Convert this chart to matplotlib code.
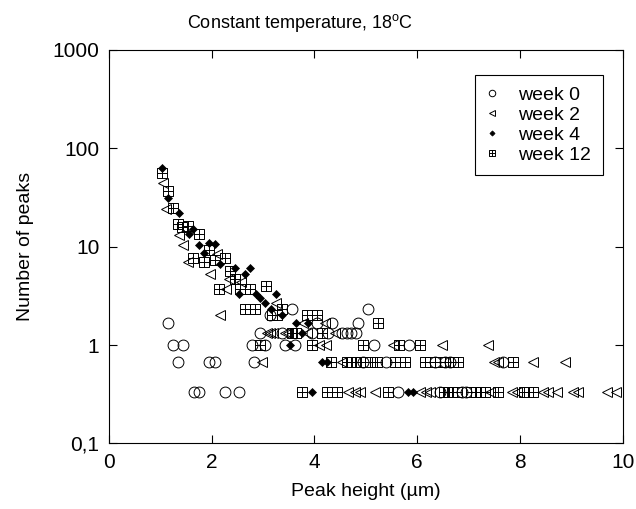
import matplotlib
matplotlib.use('Agg')
import matplotlib.pyplot as plt
from matplotlib.path import Path
from matplotlib.ticker import FixedLocator, FixedFormatter, NullLocator

plt.rcParams['font.family'] = ['Liberation Sans', 'DejaVu Sans']
plt.rcParams['mathtext.fontset'] = 'custom'
plt.rcParams['mathtext.rm'] = 'Liberation Sans'

# peak height (um) and number of peaks
week0_x = [1.15, 1.24, 1.45, 1.35, 1.95, 2.06, 2.82, 1.65, 1.76, 2.26, 2.54,
           2.78, 3.04, 3.43, 3.62, 2.94, 3.36, 3.13, 3.56, 5.05, 4.05, 4.35,
           4.85, 3.95, 4.27, 4.53, 4.63, 4.72, 4.81, 5.16, 5.85, 4.95, 5.39,
           6.35, 6.55, 6.64, 7.68, 5.63, 6.44, 6.87, 6.96]
week0_y = [1.67, 1.0, 1.0, 0.667, 0.667, 0.667, 0.667, 0.333, 0.333, 0.333, 0.333,
           1.0, 1.0, 1.0, 1.0, 1.33, 1.33, 2.0, 2.33, 2.33, 1.67, 1.67,
           1.67, 1.33, 1.33, 1.33, 1.33, 1.33, 1.33, 1.0, 1.0, 0.667, 0.667,
           0.667, 0.667, 0.667, 0.667, 0.333, 0.333, 0.333, 0.333]

week2_x = [1.06, 1.1, 1.37, 1.45, 1.54, 2.1, 1.97, 2.34, 2.56, 2.28,
           2.16, 3.26, 3.77, 4.2, 3.42, 3.48, 3.85, 4.4, 3.07, 3.14,
           3.2, 4.08, 4.22, 5.53, 6.48, 7.38, 2.97, 4.53, 7.49, 7.57,
           8.26, 8.88, 4.66, 4.79, 4.89, 5.18, 6.05, 6.18, 6.25, 7.42,
           7.84, 7.94, 8.45, 8.55, 8.72, 9.04, 9.14, 9.69, 9.88]
week2_y = [44, 24, 13, 10.33, 7, 8.33, 5.33, 4.67, 4.33, 3.67,
           2.0, 2.67, 1.67, 1.67, 1.33, 1.33, 1.33, 1.33, 1.33, 1.33,
           1.33, 1.0, 1.0, 1.0, 1.0, 1.0, 0.667, 0.667, 0.667, 0.667,
           0.667, 0.667, 0.333, 0.333, 0.333, 0.333, 0.333, 0.333, 0.333, 0.333,
           0.333, 0.333, 0.333, 0.333, 0.333, 0.333, 0.333, 0.333, 0.333]

week4_x = [1.04, 1.15, 1.36, 1.56, 1.64, 1.76, 1.95, 2.06, 1.84, 2.16,
           2.45, 2.74, 2.65, 2.53, 2.86, 2.94, 3.04, 3.15, 3.25, 3.36,
           3.65, 3.88, 3.75, 3.52, 4.14, 4.24, 3.95, 5.83, 5.92]
week4_y = [63.3, 31, 22, 13.33, 15, 10.33, 11, 10.67, 8.67, 6.67,
           6.0, 6.0, 5.33, 3.33, 3.33, 3.0, 2.67, 2.33, 3.33, 2.0,
           1.67, 1.67, 1.33, 1.0, 0.667, 0.667, 0.333, 0.333, 0.333]

week12_x = [1.04, 1.15, 1.25, 1.35, 1.43, 1.54, 1.76, 1.95, 1.64, 1.84,
            2.06, 2.26, 2.36, 2.45, 3.06, 2.14, 2.55, 2.74, 2.65, 2.84,
            3.36, 3.17, 3.27, 3.85, 4.05, 5.23, 3.56, 3.65, 4.14, 2.93,
            3.95, 4.95, 5.65, 6.05,
            4.33, 4.63, 4.72, 4.8, 4.89, 5.08, 5.21, 5.57, 5.76, 6.15,
            6.25, 6.45, 6.55, 6.7, 6.8, 7.87,
            3.75, 4.25, 4.44, 5.44, 6.52, 6.6, 6.68, 6.78, 7.04, 7.14,
            7.23, 7.32, 7.58, 8.07, 8.26]
week12_y = [56.7, 36.7, 25, 17, 15.67, 16.33, 13.33, 9.33, 7.67, 7.0,
            7.33, 7.67, 5.67, 4.67, 4.0, 3.67, 3.67, 3.67, 2.33, 2.33,
            2.33, 2.0, 2.0, 2.0, 2.0, 1.67, 1.33, 1.33, 1.33, 1.0,
            1.0, 1.0, 1.0, 1.0,
            0.667, 0.667, 0.667, 0.667, 0.667, 0.667, 0.667, 0.667, 0.667, 0.667,
            0.667, 0.667, 0.667, 0.667, 0.667, 0.667,
            0.333, 0.333, 0.333, 0.333, 0.333, 0.333, 0.333, 0.333, 0.333, 0.333,
            0.333, 0.333, 0.333, 0.333, 0.333]

x_ticks = [0, 2, 4, 6, 8, 10]
y_ticks = [0.1, 1, 10, 100, 1000]
y_tick_labels = ['0,1', '1', '10', '100', '1000']

# boxed plus marker (square with a cross inside)
box_plus = Path([(-1, -1), (1, -1), (1, 1), (-1, 1), (-1, -1),
                 (0, -1), (0, 1), (-1, 0), (1, 0)],
                [Path.MOVETO, Path.LINETO, Path.LINETO, Path.LINETO, Path.CLOSEPOLY,
                 Path.MOVETO, Path.LINETO, Path.MOVETO, Path.LINETO])

fig = plt.figure(figsize=(6.36, 5.09), dpi=100)
ax = fig.add_axes([0.1714, 0.129, 0.8076, 0.7728])

ax.plot(week0_x, week0_y, linestyle='none', marker='o', ms=7.8,
        mfc='none', mec='black', mew=0.7, label='week 0')
ax.plot(week2_x, week2_y, linestyle='none', marker='<', ms=7,
        mfc='none', mec='black', mew=0.7, label='week 2')
ax.plot(week4_x, week4_y, linestyle='none', marker='D', ms=4.4,
        mfc='black', mec='black', mew=0.5, label='week 4')
ax.plot(week12_x, week12_y, linestyle='none', marker=box_plus, ms=6.8,
        mfc='none', mec='black', mew=0.7, label='week 12')

ax.set_yscale('log')
ax.set_xlim(0, 10)
ax.set_ylim(0.1, 1000)
ax.xaxis.set_major_locator(FixedLocator(x_ticks))
ax.yaxis.set_major_locator(FixedLocator(y_ticks))
ax.yaxis.set_major_formatter(FixedFormatter(y_tick_labels))
ax.yaxis.set_minor_locator(NullLocator())
ax.tick_params(which='major', direction='in', length=5.5, width=0.8,
               top=True, right=True, labelsize=15, pad=7)
for s in ax.spines.values():
    s.set_linewidth(0.8)

ax.set_xlabel('Peak height (\u00b5m)', fontsize=14, labelpad=8)
ax.set_ylabel('Number of peaks', fontsize=14, labelpad=13)

fig.text(300 / 636, 1 - 28.5 / 509, r'Constant temperature, 18$^\mathregular{o}$C',
         ha='center', va='baseline', fontsize=13)

leg = ax.legend(loc='upper right', bbox_to_anchor=(0.9617, 0.9364),
                borderaxespad=0, fontsize=14, markerscale=0.6,
                handlelength=0.6, handletextpad=1.05, labelspacing=0.11,
                borderpad=0.6, fancybox=False, edgecolor='black',
                framealpha=1)
leg.get_frame().set_linewidth(0.8)

fig.savefig('out.png', dpi=100)
